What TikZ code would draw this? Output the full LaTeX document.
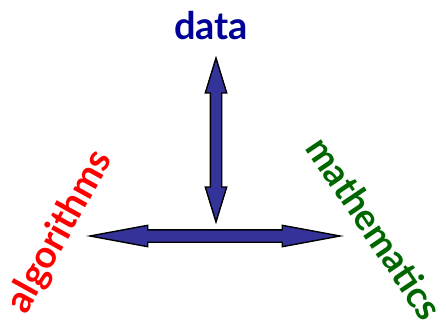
\documentclass[tikz,border=0pt]{standalone}
\usepackage{fontspec}
\setmainfont{Lato}
\usepackage{tikz}
\usetikzlibrary{shapes.arrows}
\definecolor{cArrowF}{HTML}{33339A}
\definecolor{cDataT}{HTML}{000099}
\definecolor{cAlgoT}{HTML}{FF0000}
\definecolor{cMathT}{HTML}{006600}
\tikzset{
  dblarr/.style = {double arrow, draw=black, fill=cArrowF, line width=1.4pt,
                   inner xsep=0pt, double arrow head indent=0pt},
  word/.style   = {font=\fontsize{38}{38}\selectfont\bfseries, inner sep=0pt},
}
\begin{document}
\begin{tikzpicture}[x=1pt, y=-1pt]
  \useasboundingbox (0,0) rectangle (446,334);
  % the two double arrows
  \node[dblarr, minimum height=250pt, inner ysep=5.5pt,
        double arrow head extend=4.5pt, double arrow tip angle=21] (horiz) at (215,236) {};
  \node[dblarr, rotate=90, minimum height=164pt, inner ysep=5pt,
        double arrow head extend=5pt, double arrow tip angle=34] (vert) at (216,140) {};
  % labels
  \node[word, cDataT] (data) at (211,26) {data};
  \node[word, cAlgoT, rotate=61] (algo) at (60,232) {algorithms};
  \node[word, cMathT, rotate=-56, font=\fontsize{37}{37}\selectfont\bfseries] (math) at (375,228) {mathematics};
\end{tikzpicture}
\end{document}
